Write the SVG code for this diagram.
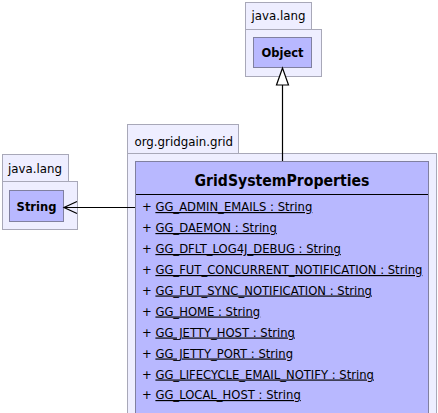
<svg xmlns="http://www.w3.org/2000/svg" width="438" height="413" viewBox="0 0 438 413">
<defs>
<style>
.pkg{fill:#eeeeff;stroke:#a8a8b8;stroke-width:1}
.cls{fill:#b8b8ff;stroke:#8080a0;stroke-width:1}
.pt{font-family:"DejaVu Sans",sans-serif;font-size:11.8px;fill:#000}
.cn{font-family:"DejaVu Sans",sans-serif;font-size:11.5px;font-weight:bold;fill:#000;text-anchor:middle}
.title{font-family:"DejaVu Sans",sans-serif;font-size:16.5px;font-weight:bold;fill:#000;text-anchor:middle}
.at{font-family:"DejaVu Sans",sans-serif;font-size:11.6px;fill:#000}
.u{text-decoration:underline}
.ln{stroke:#000;stroke-width:1.2;fill:none}
</style>
</defs>
<g id="pkg-object">
<rect class="pkg" x="245.5" y="2.5" width="66" height="27"/>
<rect class="pkg" x="245.5" y="29.5" width="76" height="47"/>
<text class="pt" x="251.5" y="20">java.lang</text>
</g>
<g id="node-object">
<rect class="cls" x="253.5" y="37.5" width="58" height="30"/>
<text class="cn" x="282.5" y="57">Object</text>
</g>
<g id="pkg-string">
<rect class="pkg" x="2.5" y="154.5" width="66" height="27"/>
<rect class="pkg" x="2.5" y="181.5" width="75" height="48"/>
<text class="pt" x="8" y="173">java.lang</text>
</g>
<g id="node-string">
<rect class="cls" x="9.5" y="190.5" width="54" height="31"/>
<text class="cn" x="36.5" y="211">String</text>
</g>
<g id="pkg-grid">
<rect class="pkg" x="127.5" y="124.5" width="111" height="29"/>
<rect class="pkg" x="127.5" y="153.5" width="309" height="270"/>
<text class="pt" x="134.5" y="146">org.gridgain.grid</text>
</g>
<g id="node-gridsystemproperties">
<rect class="cls" x="135.5" y="161.5" width="293" height="262"/>
<text class="title" x="282" y="186" textLength="175" lengthAdjust="spacingAndGlyphs">GridSystemProperties</text>
<line x1="136" y1="194.5" x2="428" y2="194.5" stroke="#000" stroke-width="1.2"/>
<g class="at" xml:space="preserve">
<text x="142" y="211">+ <tspan class="u">GG_ADMIN_EMAILS : String </tspan></text>
<text x="142" y="232">+ <tspan class="u">GG_DAEMON : String </tspan></text>
<text x="142" y="253">+ <tspan class="u">GG_DFLT_LOG4J_DEBUG : String </tspan></text>
<text x="142" y="274">+ <tspan class="u">GG_FUT_CONCURRENT_NOTIFICATION : String </tspan></text>
<text x="142" y="294.5">+ <tspan class="u">GG_FUT_SYNC_NOTIFICATION : String </tspan></text>
<text x="142" y="315.5">+ <tspan class="u">GG_HOME : String </tspan></text>
<text x="142" y="336.5">+ <tspan class="u">GG_JETTY_HOST : String </tspan></text>
<text x="142" y="357.5">+ <tspan class="u">GG_JETTY_PORT : String </tspan></text>
<text x="142" y="378.5">+ <tspan class="u">GG_LIFECYCLE_EMAIL_NOTIFY : String </tspan></text>
<text x="142" y="399">+ <tspan class="u">GG_LOCAL_HOST : String </tspan></text>
</g>
</g>
<g id="connectors">
<line class="ln" x1="282.5" y1="85" x2="282.5" y2="161"/>
<polygon points="282.5,68 276.5,85 288.5,85" fill="#fff" stroke="#000" stroke-width="1.2"/>
<line class="ln" x1="64" y1="207.5" x2="135" y2="207.5"/>
<polyline class="ln" points="77,201.5 64,207.5 77,213.5"/>
</g>
</svg>
